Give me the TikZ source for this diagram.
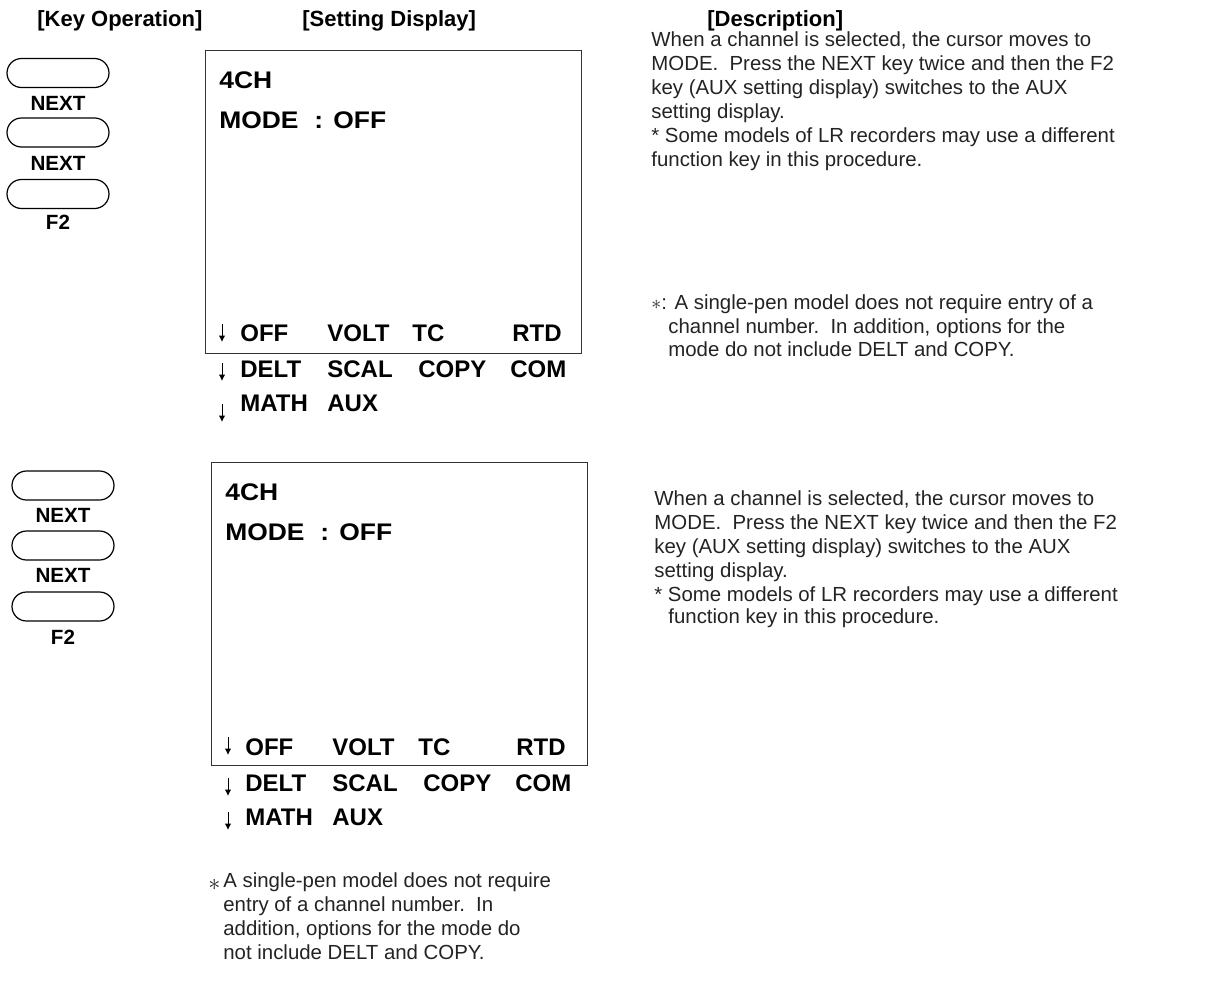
\documentclass[tikz,border=0pt]{standalone}
\usepackage{fontspec}
\setmainfont{Liberation Sans}
\newfontfamily\dispwide[FakeStretch=1.1]{Liberation Sans}
\usetikzlibrary{arrows.meta,shapes.misc}
\definecolor{txt}{RGB}{35,35,35}
\tikzset{
 hdr/.style={anchor=base west,inner sep=0,font=\fontsize{11}{13}\selectfont\bfseries},
 disp/.style={anchor=base west,inner sep=0,font=\fontsize{12}{14}\selectfont\bfseries},
 dispw/.style={anchor=base west,inner sep=0,font=\dispwide\fontsize{12}{14}\selectfont\bfseries},
 desc/.style={anchor=base west,inner sep=0,font=\fontsize{10.2}{12}\selectfont,text=txt},
 keybtn/.style={draw,rounded rectangle,minimum width=51pt,minimum height=14.5pt,inner sep=0,line width=0.6pt},
 keylbl/.style={anchor=base,inner sep=0,font=\fontsize{10.3}{12}\selectfont\bfseries},
 screen/.style={draw=black!80,line width=0.7pt,anchor=north west,inner sep=0,minimum width=188pt,minimum height=151.5pt},
 darr/.style={-{Latex[length=3.2pt,width=3.2pt]},line width=0.5pt},
 star/.style={anchor=base west,inner sep=0,text=txt,font=\fontsize{10.2}{12}\selectfont}
}
\begin{document}
\begin{tikzpicture}[x=0.5pt,y=-0.5pt]
\useasboundingbox (0,0) rectangle (1213,985);
% headers
\node[hdr] (h1) at (37,26) {[Key Operation]};
\node[hdr] (h2) at (302,26) {[Setting Display]};
\node[hdr] (h3) at (707,26) {[Description]};
% ---------- group 1 ----------
\node[keybtn] (k1) at (58,73) {};
\node[keylbl] (l1) at (58,110) {NEXT};
\node[keybtn] (k2) at (58,132.5) {};
\node[keylbl] (l2) at (58,170) {NEXT};
\node[keybtn] (k3) at (58,194) {};
\node[keylbl] (l3) at (58,229) {F2};
\node[screen] (s1) at (205,50) {};
\node[dispw] (s1a) at (219,88) {4CH};
\node[dispw] (s1b) at (219,128) {MODE};
\node[dispw] (s1c) at (314,128) {:};
\node[dispw] (s1d) at (333,128) {OFF};
\node[disp] (r1a) at (240,341) {OFF};
\node[disp] (r1b) at (327,341) {VOLT};
\node[disp] (r1c) at (412,341) {TC};
\node[disp] (r1d) at (512,341) {RTD};
\node[disp] (r2a) at (240,377) {DELT};
\node[disp] (r2b) at (327,377) {SCAL};
\node[disp] (r2c) at (418,377) {COPY};
\node[disp] (r2d) at (510,377) {COM};
\node[disp] (r3a) at (240,411) {MATH};
\node[disp] (r3b) at (327,411) {AUX};
\coordinate (a1s) at (222,324); \coordinate (a1e) at (222,342);
\coordinate (a2s) at (222,363); \coordinate (a2e) at (222,381);
\coordinate (a3s) at (222,404); \coordinate (a3e) at (222,422);
\draw[darr] (a1s) -- (a1e);
\draw[darr] (a2s) -- (a2e);
\draw[darr] (a3s) -- (a3e);
% description 1
\foreach \t [count=\i from 0] in {{When a channel is selected, the cursor moves to},{MODE.\ \ Press the NEXT key twice and then the F2},{key (AUX setting display) switches to the AUX},{setting display.},{* Some models of LR recorders may use a different},{function key in this procedure.}}
  \node[desc] (d1-\i) at (651,46+24*\i) {\t};
\node[star] (st1) at (651,309) {$\ast$};
\node[desc] (n1a) at (661,309) {: A single-pen model does not require entry of a};
\node[desc] (n1b) at (668,333) {channel number.\ \ In addition, options for the};
\node[desc] (n1c) at (668,356) {mode do not include DELT and COPY.};
% ---------- group 2 ----------
\node[keybtn] (k4) at (63,485.5) {};
\node[keylbl] (l4) at (63,522) {NEXT};
\node[keybtn] (k5) at (63,545.5) {};
\node[keylbl] (l5) at (63,582) {NEXT};
\node[keybtn] (k6) at (63,606.5) {};
\node[keylbl] (l6) at (63,644) {F2};
\node[screen] (s2) at (211,462) {};
\node[dispw] (s2a) at (225,500) {4CH};
\node[dispw] (s2b) at (225,540) {MODE};
\node[dispw] (s2c) at (320,540) {:};
\node[dispw] (s2d) at (339,540) {OFF};
\node[disp] (q1a) at (245,755) {OFF};
\node[disp] (q1b) at (332,755) {VOLT};
\node[disp] (q1c) at (418,755) {TC};
\node[disp] (q1d) at (516,755) {RTD};
\node[disp] (q2a) at (245,791) {DELT};
\node[disp] (q2b) at (332,791) {SCAL};
\node[disp] (q2c) at (423,791) {COPY};
\node[disp] (q2d) at (515,791) {COM};
\node[disp] (q3a) at (245,825) {MATH};
\node[disp] (q3b) at (332,825) {AUX};
\coordinate (b1s) at (228,737); \coordinate (b1e) at (228,755);
\coordinate (b2s) at (228,778); \coordinate (b2e) at (228,796);
\coordinate (b3s) at (228,812); \coordinate (b3e) at (228,830);
\draw[darr] (b1s) -- (b1e);
\draw[darr] (b2s) -- (b2e);
\draw[darr] (b3s) -- (b3e);
% description 2
\foreach \t [count=\i from 0] in {{When a channel is selected, the cursor moves to},{MODE.\ \ Press the NEXT key twice and then the F2},{key (AUX setting display) switches to the AUX},{setting display.},{* Some models of LR recorders may use a different}}
  \node[desc] (d2-\i) at (654,505+24*\i) {\t};
\node[desc] (d2-5) at (668,623) {function key in this procedure.};
% footnote
\node[star,font=\fontsize{13}{14}\selectfont] (st2) at (208,890) {$\ast$};
\foreach \t [count=\i from 0] in {{A single-pen model does not require},{entry of a channel number.\ \ In},{addition, options for the mode do},{not include DELT and COPY.}}
  \node[desc] (f-\i) at (223,887+24*\i) {\t};
\end{tikzpicture}
\end{document}
